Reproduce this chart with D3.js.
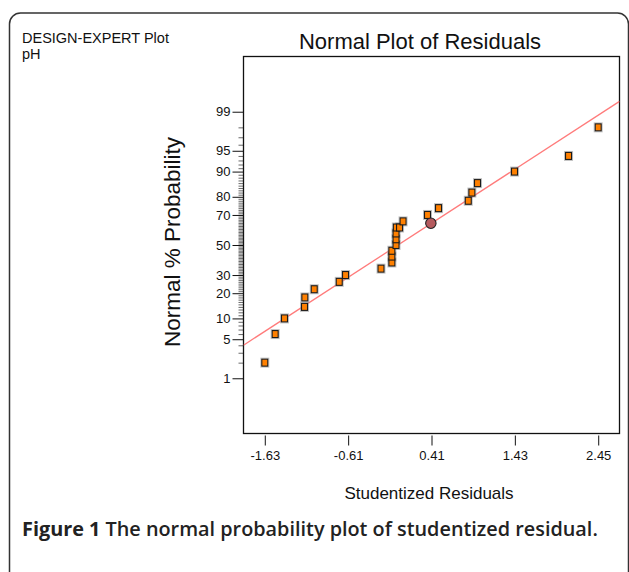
<!DOCTYPE html>
<html>
<head>
<meta charset="utf-8">
<script src="https://cdn.jsdelivr.net/npm/d3@7"></script>
<style>
  html, body { margin: 0; padding: 0; background: #fff; }
  svg { display: block; }
</style>
</head>
<body>
<svg id="chart" width="629" height="572"></svg>
<script>
// ---- data ----
const probabilities = [2, 6, 10, 14, 18, 22, 26, 30, 34, 38, 42, 46, 50, 54, 58, 62, 62, 66, 70, 74, 78, 82, 86, 90, 94, 98];
const residuals = [-1.63, -1.503, -1.389, -1.144, -1.140, -1.025, -0.719, -0.642, -0.208, -0.075, -0.075, -0.075, -0.024, -0.024, -0.024, -0.020, 0.019, 0.062, 0.361, 0.496, 0.860, 0.904, 0.973, 1.426, 2.087, 2.45];
const highlightResidual = [0.402];
const highlightProbability = [64.8];
const xTickValues = [-1.63, -0.61, 0.41, 1.43, 2.45];
const xTickLabels = ["-1.63", "-0.61", "0.41", "1.43", "2.45"];
const yMajorTicks = [1, 5, 10, 20, 30, 50, 70, 80, 90, 95, 99];
const yMinorTicks = d3.range(2, 99).filter(p => !yMajorTicks.includes(p));
const fitSlope = 0.925;      // normal quantile per studentized residual
const fitIntercept = 0.0;
const xDomain = [-1.8906, 2.7106];
const probDomain = [0.05, 99.95];

// inverse normal CDF (Acklam)
function probit(p) {
  const a = [-3.969683028665376e+01, 2.209460984245205e+02, -2.759285104469687e+02, 1.383577518672690e+02, -3.066479806614716e+01, 2.506628277459239e+00];
  const b = [-5.447609879822406e+01, 1.615858368580409e+02, -1.556989798598866e+02, 6.680131188771972e+01, -1.328068155288572e+01];
  const c = [-7.784894002430293e-03, -3.223964580411365e-01, -2.400758277161838e+00, -2.549732539343734e+00, 4.374664141464968e+00, 2.938163982698783e+00];
  const d = [7.784695709041462e-03, 3.224671290700398e-01, 2.445134137142996e+00, 3.754408661907416e+00];
  const pl = 0.02425, ph = 1 - pl;
  let q, r;
  if (p < pl) {
    q = Math.sqrt(-2 * Math.log(p));
    return (((((c[0]*q+c[1])*q+c[2])*q+c[3])*q+c[4])*q+c[5]) / ((((d[0]*q+d[1])*q+d[2])*q+d[3])*q+1);
  } else if (p <= ph) {
    q = p - 0.5; r = q*q;
    return (((((a[0]*r+a[1])*r+a[2])*r+a[3])*r+a[4])*r+a[5])*q / (((((b[0]*r+b[1])*r+b[2])*r+b[3])*r+b[4])*r+1);
  } else {
    q = Math.sqrt(-2 * Math.log(1 - p));
    return -(((((c[0]*q+c[1])*q+c[2])*q+c[3])*q+c[4])*q+c[5]) / ((((d[0]*q+d[1])*q+d[2])*q+d[3])*q+1);
  }
}
const z = pct => probit(pct / 100);

// ---- layout ----
const plot = { left: 243.5, right: 619.5, top: 56.5, bottom: 433.5 };
const svg = d3.select("#chart");
const font = "'Liberation Sans', Arial, Helvetica, sans-serif";

const x = d3.scaleLinear().domain(xDomain).range([plot.left, plot.right]);
const yz = d3.scaleLinear().domain([z(probDomain[0]), z(probDomain[1])]).range([plot.bottom, plot.top]);
const y = pct => yz(z(pct));

// outer rounded border
svg.append("rect")
  .attr("x", 9.5).attr("y", 13).attr("width", 619).attr("height", 620)
  .attr("rx", 11).attr("ry", 11)
  .attr("fill", "none").attr("stroke", "#333").attr("stroke-width", 1.5);

// top-left texts
svg.append("text").attr("x", 22).attr("y", 43).attr("font-family", font).attr("font-size", 14.5)
  .attr("fill", "#111").text("DESIGN-EXPERT Plot");
svg.append("text").attr("x", 22).attr("y", 59).attr("font-family", font).attr("font-size", 14.5)
  .attr("fill", "#111").text("pH");

// title
svg.append("text").attr("x", 420).attr("y", 49).attr("text-anchor", "middle")
  .attr("font-family", font).attr("font-size", 22).attr("fill", "#111")
  .text("Normal Plot of Residuals");

// y minor ticks
svg.append("g").attr("transform", `translate(${plot.left},0)`)
  .call(d3.axisLeft(yz).tickValues(yMinorTicks.map(z)).tickSize(5).tickFormat(""))
  .call(g => g.select(".domain").remove())
  .call(g => g.selectAll("line").attr("stroke", "#444").attr("stroke-width", 0.8));

// y major ticks
svg.append("g").attr("transform", `translate(${plot.left},0)`)
  .call(d3.axisLeft(yz).tickValues(yMajorTicks.map(z)).tickSize(11).tickPadding(2)
    .tickFormat((d, i) => String(yMajorTicks[i])))
  .call(g => g.select(".domain").remove())
  .call(g => g.selectAll("line").attr("stroke", "#111").attr("stroke-width", 1))
  .call(g => g.selectAll("text").attr("font-family", font).attr("font-size", 13).attr("fill", "#111"));

// x ticks
svg.append("g").attr("transform", `translate(0,${plot.bottom + 2})`)
  .call(d3.axisBottom(x).tickValues(xTickValues).tickSize(10).tickPadding(5)
    .tickFormat((d, i) => xTickLabels[i]))
  .call(g => g.select(".domain").remove())
  .call(g => g.selectAll("line").attr("stroke", "#111").attr("stroke-width", 1))
  .call(g => g.selectAll("text").attr("font-family", font).attr("font-size", 13).attr("fill", "#111"));

// frame
svg.append("rect")
  .attr("x", plot.left).attr("y", plot.top)
  .attr("width", plot.right - plot.left).attr("height", plot.bottom - plot.top)
  .attr("fill", "none").attr("stroke", "#111").attr("stroke-width", 1.3);

// fit line (clipped to frame)
svg.append("clipPath").attr("id", "clip").append("rect")
  .attr("x", plot.left).attr("y", plot.top)
  .attr("width", plot.right - plot.left).attr("height", plot.bottom - plot.top);
svg.append("line")
  .attr("clip-path", "url(#clip)")
  .attr("x1", x(xDomain[0])).attr("y1", yz(fitSlope * xDomain[0] + fitIntercept))
  .attr("x2", x(xDomain[1])).attr("y2", yz(fitSlope * xDomain[1] + fitIntercept))
  .attr("stroke", "#ff7b7b").attr("stroke-width", 1.3);

// points
const pts = residuals.map((r, i) => ({ r, p: probabilities[i] }));
const pg = svg.append("g");
pg.selectAll("rect.halo").data(pts).join("rect").attr("class", "halo")
  .attr("x", d => x(d.r) - 4).attr("y", d => y(d.p) - 4.5)
  .attr("width", 8).attr("height", 9)
  .attr("fill", "none").attr("stroke", "#999").attr("stroke-opacity", 0.6).attr("stroke-width", 1);
pg.selectAll("rect.pt").data(pts).join("rect").attr("class", "pt")
  .attr("x", d => x(d.r) - 3).attr("y", d => y(d.p) - 3.5)
  .attr("width", 6).attr("height", 7)
  .attr("fill", "#ff8000").attr("stroke", "#1a1a1a").attr("stroke-width", 1.1);

// highlighted point
svg.selectAll("circle.hl").data(highlightResidual.map((r, i) => ({ r, p: highlightProbability[i] })))
  .join("circle").attr("class", "hl")
  .attr("cx", d => x(d.r)).attr("cy", d => y(d.p)).attr("r", 5.2)
  .attr("fill", "#b55a5e").attr("stroke", "#222").attr("stroke-width", 1.1);

// axis titles
svg.append("text").attr("x", 429).attr("y", 499).attr("text-anchor", "middle")
  .attr("font-family", font).attr("font-size", 17).attr("fill", "#111")
  .text("Studentized Residuals");
svg.append("text")
  .attr("transform", "translate(180,242) rotate(-90)")
  .attr("text-anchor", "middle")
  .attr("font-family", font).attr("font-size", 22.5).attr("fill", "#111")
  .text("Normal % Probability");

// caption
const cap = svg.append("text").attr("x", 22).attr("y", 536)
  .attr("font-family", "'Open Sans', 'Noto Sans', sans-serif").attr("font-size", 17).attr("fill", "#222");
cap.append("tspan").attr("font-weight", 700).text("Figure 1");
cap.append("tspan").attr("font-weight", 600).text(" The normal probability plot of studentized residual.");
const w = cap.node().getComputedTextLength();
const target = 576;
cap.attr("font-size", 17 * target / w);
</script>
</body>
</html>
